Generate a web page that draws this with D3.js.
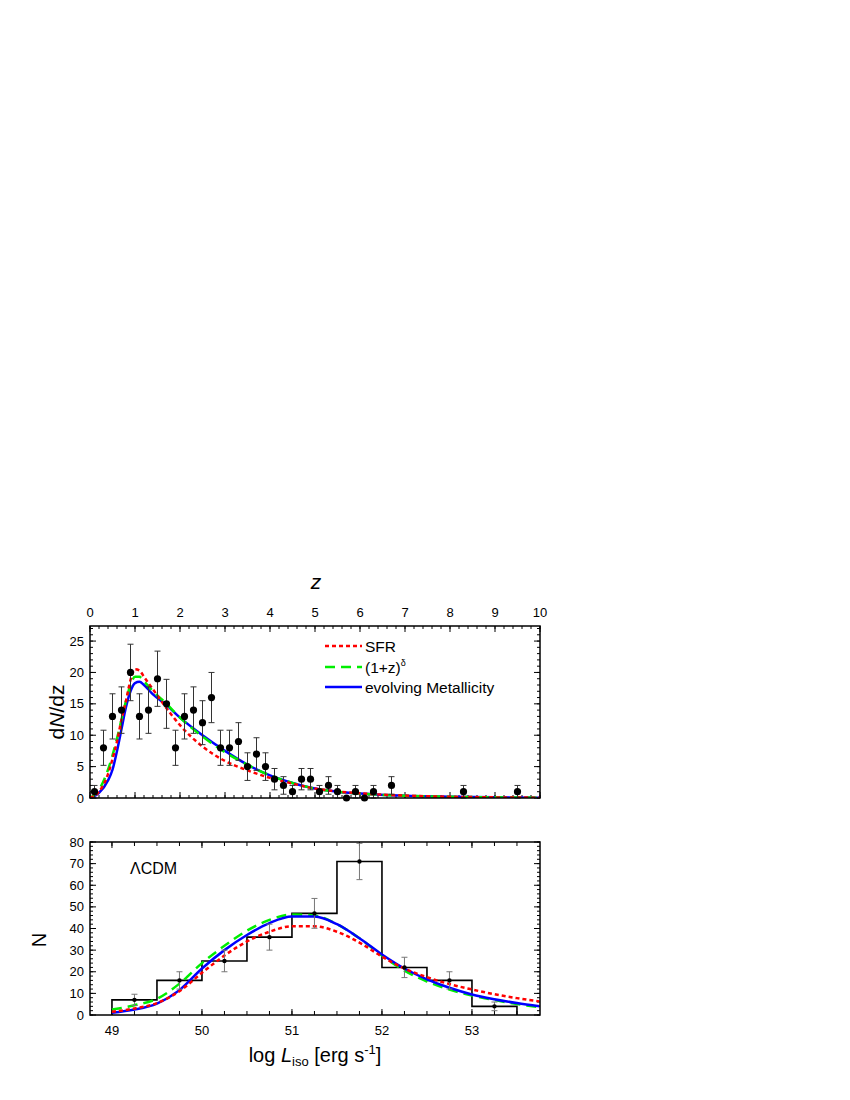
<!DOCTYPE html>
<html><head><meta charset="utf-8">
<script src="https://cdn.jsdelivr.net/npm/d3@7"></script>
<style>body{margin:0;background:#fff}svg{display:block}text{font-family:"Liberation Sans",Arial,sans-serif}</style>
</head><body>
<svg id="c" width="850" height="1100"></svg>
<script>
// ---- top panel data ----
const zPts   = [0.1,0.3,0.5,0.7,0.9,1.1,1.3,1.5,1.7,1.9,2.1,2.3,2.5,2.7,2.9,3.1,3.3,3.5,3.7,3.9,4.1,4.3,4.5,4.7,4.9,5.1,5.3,5.5,5.7,5.9,6.1,6.3,6.7,8.3,9.5];
const dNdz   = [1,8,13,14,20,13,14,19,15,8,13,14,12,16,8,8,9,5,7,5,3,2,1,3,3,1,2,1,0,1,0,1,2,1,1];
const dNdzErr= [1,2.8,3.6,3.7,4.5,3.6,3.7,4.4,3.9,2.8,3.6,3.7,3.5,4,2.8,2.8,3,2.2,2.6,2.2,1.7,1.4,1,1.7,1.7,1,1.4,1,0,1,0,1,1.4,1,1];

const zCurve  = [0,0.2,0.4,0.5,0.6,0.7,0.8,0.9,1.0,1.1,1.2,1.4,1.7,2.0,2.5,3.0,3.5,4.0,4.5,5.0,5.5,6,7,8,9,10];
const sfrZ    = [0,1,3.8,6.2,9,12.5,15.5,18.8,20.5,20.3,19.3,17.3,14.3,11.6,8.2,5.9,4.4,3.2,2.3,1.5,1.05,0.75,0.38,0.2,0.1,0.05];
const powZ    = [0,1.3,4.5,6.8,9.5,12.5,15.5,18,19.3,19.3,18.6,17,15,12.8,9.8,7.3,5.3,3.6,2.4,1.5,1.0,0.7,0.35,0.2,0.1,0.05];
const metZ    = [0,0.8,2.8,4.5,7.5,11,14.5,17,18.3,18.5,18,16.5,14.8,12.8,10,7.5,5.3,3.6,2.4,1.5,1.0,0.7,0.35,0.2,0.1,0.05];

// ---- bottom panel data ----
const binEdges = [49,49.5,50,50.5,51,51.5,52,52.5,53,53.5];
const counts   = [7,16,25,36,47,71,22,16,4];
const countErr = [2.6,4,5,6,6.9,8.4,4.7,4,2];

const LCurve = [49,49.25,49.5,49.75,50,50.25,50.5,50.75,51,51.25,51.5,51.75,52,52.25,52.5,52.75,53,53.25,53.5,53.75];
const sfrL   = [1.5,3,5.5,11,19.5,27.5,34,38.5,41,41,38.5,33.5,27,21.5,17.5,14.3,11.8,9.6,7.8,6.3];
const powL   = [2.5,4.5,7.5,14.5,24,32,39,44,46.5,46,42,35.5,27.5,20.5,15.5,11.8,9,6.9,5.1,3.6];
const metL   = [1,2.5,5.3,11.5,21.5,30,37,42.5,45.5,45.5,42,35.5,28,21.5,16.5,12.6,9.5,7.3,5.5,4];

const zTicks = [0,1,2,3,4,5,6,7,8,9,10];
const topYTicks = [0,5,10,15,20,25];
const LTicks = [49,50,51,52,53];
const botYTicks = [0,10,20,30,40,50,60,70,80];

const svg = d3.select("#c");
const L = 90, R = 540;
const T1 = 626, B1 = 798, T2 = 842, B2 = 1015;

const xz = d3.scaleLinear().domain([0,10]).range([L,R]);
const y1 = d3.scaleLinear().domain([0,27.4]).range([B1,T1]);
const xL = d3.scaleLinear().domain([48.756,53.756]).range([L,R]);
const y2 = d3.scaleLinear().domain([0,80]).range([B2,T2]);

const defs = svg.append("defs");
defs.append("clipPath").attr("id","cp1").append("rect").attr("x",L).attr("y",T1).attr("width",R-L).attr("height",B1-T1);
defs.append("clipPath").attr("id","cp2").append("rect").attr("x",L).attr("y",T2).attr("width",R-L).attr("height",B2-T2);

function ticks(g, scale, vals, len, orient, y0, x0){
  vals.forEach(v=>{
    const p = scale(v);
    if(orient==='top') g.append("line").attr("x1",p).attr("x2",p).attr("y1",y0).attr("y2",y0+len);
    if(orient==='bottom') g.append("line").attr("x1",p).attr("x2",p).attr("y1",y0).attr("y2",y0-len);
    if(orient==='left') g.append("line").attr("y1",p).attr("y2",p).attr("x1",x0).attr("x2",x0+len);
    if(orient==='right') g.append("line").attr("y1",p).attr("y2",p).attr("x1",x0).attr("x2",x0-len);
  });
}
const rng = (a,b,s)=>{const o=[];for(let i=0;a+i*s<=b+1e-9;i++)o.push(+(a+i*s).toFixed(4));return o;};

// ===== TOP PANEL =====
const g1 = svg.append("g").attr("stroke","#000").attr("stroke-width",1);
ticks(g1, xz, zTicks, 6, 'top', T1);
ticks(g1, xz, rng(0,10,0.2), 3, 'top', T1);
ticks(g1, xz, zTicks, 6, 'bottom', B1);
ticks(g1, xz, rng(0,10,0.2), 3, 'bottom', B1);
ticks(g1, y1, topYTicks, 6, 'left', 0, L);
ticks(g1, y1, rng(0,27,1), 3, 'left', 0, L);
ticks(g1, y1, topYTicks, 6, 'right', 0, R);
ticks(g1, y1, rng(0,27,1), 3, 'right', 0, R);

svg.append("g").selectAll("text").data(zTicks).join("text")
  .attr("x",d=>xz(d)).attr("y",617).attr("text-anchor","middle").attr("font-size",13).text(d=>d);
svg.append("g").selectAll("text").data(topYTicks).join("text")
  .attr("x",L-6).attr("y",d=>y1(d)+4.5).attr("text-anchor","end").attr("font-size",13).text(d=>d);
svg.append("text").attr("x",316).attr("y",589).attr("text-anchor","middle").attr("font-size",21).attr("font-style","italic").text("z");
svg.append("text").attr("transform",`translate(64,${(T1+B1)/2}) rotate(-90)`).attr("text-anchor","middle").attr("font-size",21)
  .html('d<tspan font-style="italic">N</tspan>/dz');

const line1 = d3.line().x((d,i)=>xz(zCurve[i])).y(d=>y1(d)).curve(d3.curveMonotoneX);
const cg1 = svg.append("g").attr("clip-path","url(#cp1)").attr("fill","none");
cg1.append("path").attr("d",line1(metZ)).attr("stroke","#0000ff").attr("stroke-width",2.5);
cg1.append("path").attr("d",line1(powZ)).attr("stroke","#00ee00").attr("stroke-width",2.5).attr("stroke-dasharray","10,6");
cg1.append("path").attr("d",line1(sfrZ)).attr("stroke","#ff0000").attr("stroke-width",2.5).attr("stroke-dasharray","4,3");

const pg = svg.append("g");
zPts.forEach((z,i)=>{
  const x = xz(z), v = dNdz[i], e = dNdzErr[i];
  if(e>0){
    const ya = y1(v+e), yb = y1(Math.max(0,v-e));
    pg.append("line").attr("x1",x).attr("x2",x).attr("y1",ya).attr("y2",yb).attr("stroke","#333").attr("stroke-width",1);
    pg.append("line").attr("x1",x-3).attr("x2",x+3).attr("y1",ya).attr("y2",ya).attr("stroke","#333").attr("stroke-width",1);
    pg.append("line").attr("x1",x-3).attr("x2",x+3).attr("y1",yb).attr("y2",yb).attr("stroke","#333").attr("stroke-width",1);
  }
  pg.append("circle").attr("cx",x).attr("cy",y1(v)).attr("r",3.6).attr("fill","#000");
});

svg.append("rect").attr("x",L).attr("y",T1).attr("width",R-L).attr("height",B1-T1).attr("fill","none").attr("stroke","#000").attr("stroke-width",1.5);

const leg = [
  {label:"SFR", color:"#ff0000", dash:"4,3", y:646},
  {label:"(1+z)", sup:"δ", color:"#00ee00", dash:"10,6", y:667},
  {label:"evolving Metallicity", color:"#0000ff", dash:null, y:687}
];
leg.forEach(l=>{
  svg.append("line").attr("x1",325).attr("x2",362).attr("y1",l.y).attr("y2",l.y)
    .attr("stroke",l.color).attr("stroke-width",2.5).attr("stroke-dasharray",l.dash);
  const t = svg.append("text").attr("x",365).attr("y",l.y+5.5).attr("font-size",15.5).text(l.label);
  if(l.sup) t.append("tspan").attr("dy",-7).attr("font-size",9).text(l.sup);
});

// ===== BOTTOM PANEL =====
const g2 = svg.append("g").attr("stroke","#000").attr("stroke-width",1);
ticks(g2, xL, LTicks, 6, 'top', T2);
ticks(g2, xL, rng(49,53.5,0.25), 4, 'top', T2);
ticks(g2, xL, LTicks, 6, 'bottom', B2);
ticks(g2, xL, rng(49,53.5,0.25), 4, 'bottom', B2);
ticks(g2, y2, botYTicks, 6, 'left', 0, L);
ticks(g2, y2, rng(0,80,2), 3, 'left', 0, L);
ticks(g2, y2, botYTicks, 6, 'right', 0, R);
ticks(g2, y2, rng(0,80,2), 3, 'right', 0, R);

svg.append("g").selectAll("text").data(LTicks).join("text")
  .attr("x",d=>xL(d)).attr("y",1035).attr("text-anchor","middle").attr("font-size",13).text(d=>d);
svg.append("g").selectAll("text").data(botYTicks).join("text")
  .attr("x",L-6).attr("y",d=>y2(d)+4.5).attr("text-anchor","end").attr("font-size",13).text(d=>d);
svg.append("text").attr("transform",`translate(46,940) rotate(-90)`).attr("text-anchor","middle").attr("font-size",20).text("N");
const xl = svg.append("text").attr("x",315).attr("y",1062).attr("text-anchor","middle").attr("font-size",20);
xl.append("tspan").text("log ");
xl.append("tspan").attr("font-style","italic").text("L");
xl.append("tspan").attr("font-size",13).attr("dy",4).text("iso");
xl.append("tspan").attr("dy",-4).text(" [erg s");
xl.append("tspan").attr("font-size",13).attr("dy",-8).text("-1");
xl.append("tspan").attr("dy",8).text("]");

svg.append("text").attr("x",130).attr("y",874).attr("font-size",16).text("ΛCDM");

const stepPts = [[binEdges[0],0]];
counts.forEach((c,i)=>{ stepPts.push([binEdges[i],c]); stepPts.push([binEdges[i+1],c]); });
stepPts.push([binEdges[binEdges.length-1],0]);
svg.append("path").attr("d",d3.line().x(d=>xL(d[0])).y(d=>y2(d[1]))(stepPts))
  .attr("fill","none").attr("stroke","#000").attr("stroke-width",1.6);

const line2 = d3.line().x((d,i)=>xL(LCurve[i])).y(d=>y2(d)).curve(d3.curveMonotoneX);
const cg2 = svg.append("g").attr("clip-path","url(#cp2)").attr("fill","none");
cg2.append("path").attr("d",line2(powL)).attr("stroke","#00ee00").attr("stroke-width",2.5).attr("stroke-dasharray","10,6");
cg2.append("path").attr("d",line2(metL)).attr("stroke","#0000ff").attr("stroke-width",2.5);
cg2.append("path").attr("d",line2(sfrL)).attr("stroke","#ff0000").attr("stroke-width",2.5).attr("stroke-dasharray","4,3");

const eg = svg.append("g");
counts.forEach((c,i)=>{
  const x = xL((binEdges[i]+binEdges[i+1])/2), e = countErr[i];
  const ya = y2(c+e), yb = y2(c-e);
  eg.append("line").attr("x1",x).attr("x2",x).attr("y1",ya).attr("y2",yb).attr("stroke","#777").attr("stroke-width",1);
  eg.append("line").attr("x1",x-3).attr("x2",x+3).attr("y1",ya).attr("y2",ya).attr("stroke","#777").attr("stroke-width",1);
  eg.append("line").attr("x1",x-3).attr("x2",x+3).attr("y1",yb).attr("y2",yb).attr("stroke","#777").attr("stroke-width",1);
  eg.append("circle").attr("cx",x).attr("cy",y2(c)).attr("r",2.2).attr("fill","#000");
});

svg.append("rect").attr("x",L).attr("y",T2).attr("width",R-L).attr("height",B2-T2).attr("fill","none").attr("stroke","#000").attr("stroke-width",1.5);
</script>
</body></html>
